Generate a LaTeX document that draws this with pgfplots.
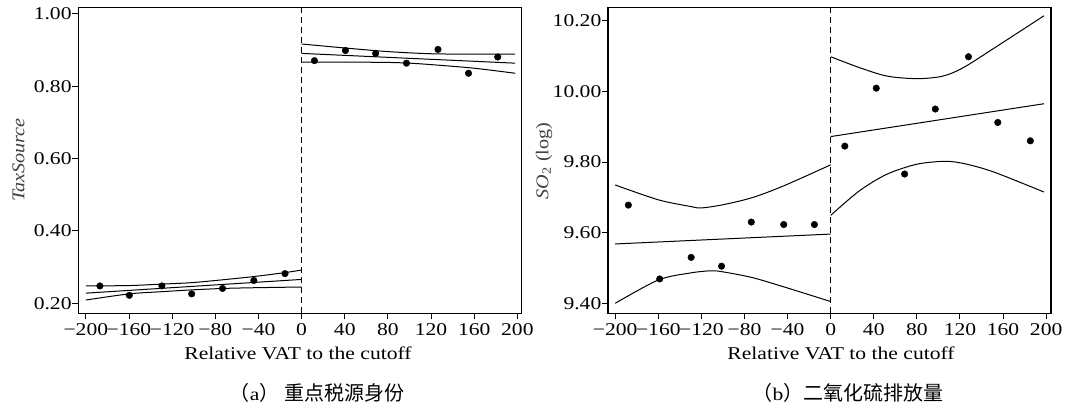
\documentclass[border=0pt]{standalone}
\usepackage{fontspec}
\setmainfont{Liberation Serif}
\newfontfamily\cjk{Noto Sans CJK SC}
\usepackage{graphicx}
\usepackage{pgfplots}
\pgfplotsset{compat=1.18}

% Latin text in this figure is set slightly wide
\newcommand{\wt}[1]{\scalebox{1.2}[1]{#1}}
\newcommand{\lbl}{\fontsize{18bp}{20bp}\selectfont}

% binned means
\pgfplotstableread{
x y
-187.0 0.248
-159.7 0.222
-129.5 0.248
-101.9 0.226
-73.3 0.241
-44.3 0.263
-15.4 0.282
11.9 0.871
40.6 0.899
68.6 0.891
97.2 0.864
126.4 0.902
154.7 0.836
181.8 0.881
}\taxbins
\pgfplotstableread{
x y
-187.8 9.678
-158.7 9.469
-129.5 9.530
-101.3 9.505
-73.7 9.630
-43.6 9.623
-15.1 9.623
13.1 9.845
42.3 10.009
68.6 9.766
97.1 9.950
127.9 10.098
155.1 9.912
185.3 9.860
}\sobins

\pgfplotsset{
  rdpanel/.style={
    scale only axis,
    anchor=south west,
    height=306bp,
    axis line style={line width=1.2bp},
    tick align=outside,
    xtick pos=left,
    ytick pos=left,
    tick style={line width=1bp, black},
    major tick length=6bp,
    xtick={-200,-160,...,200},
    xticklabels={\wt{−200},\wt{−160},\wt{−120},\wt{−80},\wt{−40},\wt{0},\wt{40},\wt{80},\wt{120},\wt{160},\wt{200}},
    tick label style={font=\lbl},
    yticklabel style={inner xsep=0.5bp},
    xticklabel style={inner ysep=4bp},
    clip=true,
  },
  fitline/.style={black, line width=1bp, smooth, mark=none},
  bins/.style={only marks, mark=*, mark size=3.3bp, black},
}

\begin{document}
\begin{tikzpicture}
\path[use as bounding box] (0,0) rectangle (1068bp,408bp);

% panel (a)
\begin{axis}[rdpanel, at={(78.3bp,94.7bp)}, width=443.4bp,
  xmin=-207, xmax=204, ymin=0.1723, ymax=1.0185,
  ytick={0.2,0.4,0.6,0.8,1.0},
  yticklabels={\wt{0.20},\wt{0.40},\wt{0.60},\wt{0.80},\wt{1.00}}]
\addplot[black, line width=0.9bp, dash pattern=on 6bp off 4bp] coordinates {(0,0.1723) (0,1.0185)};
\addplot[fitline] coordinates {(-200,0.248) (-160,0.249) (-130,0.253) (-102,0.257) (-73,0.265) (-44,0.274) (-15,0.285) (0,0.292)};
\addplot[fitline] coordinates {(-200,0.228) (0,0.266)};
\addplot[fitline] coordinates {(-200,0.209) (-160,0.226) (-130,0.232) (-102,0.237) (-73,0.241) (-44,0.243) (0,0.245)};
\addplot[fitline] coordinates {(0,0.917) (40,0.906) (80,0.896) (120,0.890) (160,0.889) (198,0.889)};
\addplot[fitline] coordinates {(0,0.891) (198,0.864)};
\addplot[fitline] coordinates {(0,0.867) (40,0.867) (80,0.866) (100,0.864) (120,0.860) (160,0.850) (198,0.836)};
\addplot[bins] table {\taxbins};
\end{axis}

% panel (b)
\begin{axis}[rdpanel, at={(608bp,94.7bp)}, width=443bp,
  xmin=-206.7, xmax=204.5, ymin=9.3717, ymax=10.238,
  ytick={9.4,9.6,9.8,10.0,10.2},
  yticklabels={\wt{9.40},\wt{9.60},\wt{9.80},\wt{10.00},\wt{10.20}}]
\addplot[black, line width=0.9bp, dash pattern=on 6bp off 4bp] coordinates {(0,9.3717) (0,10.238)};
\addplot[fitline] coordinates {(-200,9.735) (-160,9.693) (-130,9.674) (-120,9.670) (-100,9.679) (-73,9.699) (-44,9.732) (0,9.792)};
\addplot[fitline] coordinates {(-200,9.568) (0,9.596)};
\addplot[fitline] coordinates {(-200,9.400) (-160,9.466) (-130,9.486) (-111,9.492) (-100,9.489) (-73,9.473) (-44,9.447) (0,9.405)};
\addplot[fitline] coordinates {(0,10.098) (26.9,10.067) (52.6,10.043) (80.4,10.036) (103.8,10.043) (123,10.067) (152,10.123) (198,10.214)};
\addplot[fitline] coordinates {(0,9.872) (198,9.965)};
\addplot[fitline] coordinates {(0,9.649) (26.9,9.719) (52.6,9.766) (80.4,9.794) (107,9.802) (126,9.794) (152,9.771) (198,9.715)};
\addplot[bins] table {\sobins};
\end{axis}

% axis titles and captions
\node[rotate=90, text=black!75, font=\lbl] at (18.6bp,248bp) {\scalebox{1.12}[1]{\itshape TaxSource}};
\node[rotate=90, text=black!75, font=\lbl] at (544bp,247bp) {\scalebox{1.12}[1]{\textit{SO}\textsubscript{2} (log)}};
\node[anchor=base, font=\lbl] at (298bp,48bp) {\wt{Relative VAT to the cutoff}};
\node[anchor=base, font=\lbl] at (841bp,48bp) {\wt{Relative VAT to the cutoff}};
\node[anchor=base, font=\lbl] at (317bp,8bp) {{\cjk\fontsize{20bp}{22bp}\selectfont （}\wt{a}{\cjk\fontsize{20bp}{22bp}\selectfont ）\ 重点税源身份}};
\node[anchor=base, font=\lbl] at (848bp,8bp) {{\cjk\fontsize{20bp}{22bp}\selectfont （}\wt{b}{\cjk\fontsize{20bp}{22bp}\selectfont ）二氧化硫排放量}};
\end{tikzpicture}
\end{document}
